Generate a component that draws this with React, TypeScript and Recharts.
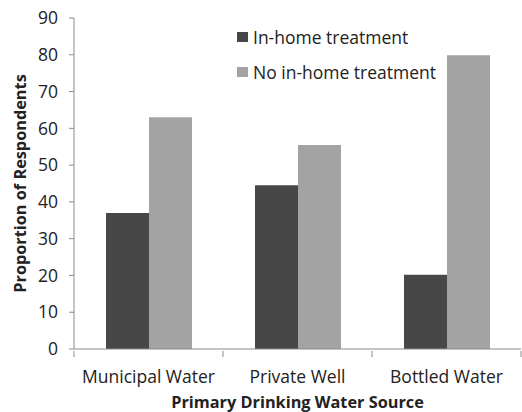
import React from "react"
import { Bar, BarChart, XAxis, YAxis, Legend, Label } from "recharts"

const categories = ["Municipal Water", "Private Well", "Bottled Water"]
const inHome = [37, 44.5, 20.2]
const noInHome = [63, 55.5, 79.9]
const yTicks = [0, 10, 20, 30, 40, 50, 60, 70, 80, 90]
const seriesNames = ["In-home treatment", "No in-home treatment"]

const data = categories.map((name, i) => ({
  name,
  inHome: inHome[i],
  noInHome: noInHome[i],
}))

const FONT = "'Open Sans', sans-serif"
const AXIS = "#8a8a8a"
const W = 522
const H = 412
const LEFT = 74
const RIGHT = 1
const STEP = (W - LEFT - RIGHT) / categories.length

function CategoryTick(props: any) {
  const { x, y, payload, index } = props
  const left = x - STEP / 2
  const right = x + STEP / 2
  return (
    <g>
      <line x1={left} y1={y} x2={left} y2={y + 6} stroke={AXIS} />
      {index === categories.length - 1 && (
        <line x1={right} y1={y} x2={right} y2={y + 6} stroke={AXIS} />
      )}
      <text x={x} y={y + 32} textAnchor="middle" fontSize={17.5} fill="#222" fontFamily={FONT}>
        {payload.value}
      </text>
    </g>
  )
}

function LegendBox(props: any) {
  const { payload } = props
  return (
    <div style={{ fontFamily: FONT, fontSize: 17.5, color: "#222" }}>
      {(payload || []).map((p: any, i: number) => (
        <div key={i} style={{ display: "flex", alignItems: "center", height: 35 }}>
          <span style={{ width: 11, height: 10, background: p.color, marginRight: 5, display: "inline-block" }} />
          <span style={{ whiteSpace: "nowrap" }}>{p.value}</span>
        </div>
      ))}
    </div>
  )
}

export default function App() {
  return (
    <div style={{ width: W, height: H, background: "#fff" }}>
      <style>{"body{margin:0}"}</style>
      <BarChart
        width={W}
        height={H}
        data={data}
        margin={{ top: 18, right: RIGHT, left: 0, bottom: 0 }}
        barGap={0}
        barCategoryGap={32}
      >
        <XAxis
          dataKey="name"
          height={63}
          stroke={AXIS}
          tickLine={false}
          tickSize={0}
          tick={<CategoryTick />}
          interval={0}
        >
          <Label
            value="Primary Drinking Water Source"
            position="insideBottom"
            offset={4}
            style={{ fontFamily: FONT, fontSize: 16.3, fontWeight: 700, fill: "#222" }}
          />
        </XAxis>
        <YAxis
          width={LEFT}
          domain={[0, 90]}
          ticks={yTicks}
          interval={0}
          stroke={AXIS}
          tickSize={5}
          tickMargin={11}
          tick={{ fontFamily: FONT, fontSize: 17.5, fill: "#222" }}
        >
          <Label
            content={(p: any) => {
              const vb = p.viewBox || {}
              const cy = vb.y + vb.height / 2
              return (
                <text
                  x={20}
                  y={cy}
                  transform={`rotate(-90 20 ${cy})`}
                  textAnchor="middle"
                  dominantBaseline="central"
                  fontFamily={FONT}
                  fontSize={16.3}
                  fontWeight={700}
                  fill="#222"
                >
                  Proportion of Respondents
                </text>
              )
            }}
          />
        </YAxis>
        <Legend
          layout="vertical"
          verticalAlign="middle"
          align="center"
          content={<LegendBox />}
          wrapperStyle={{ top: 19, left: 237, width: "auto", height: "auto" }}
        />
        <Bar dataKey="inHome" name={seriesNames[0]} fill="#474747" isAnimationActive={false} />
        <Bar dataKey="noInHome" name={seriesNames[1]} fill="#a3a3a3" isAnimationActive={false} />
      </BarChart>
    </div>
  )
}
